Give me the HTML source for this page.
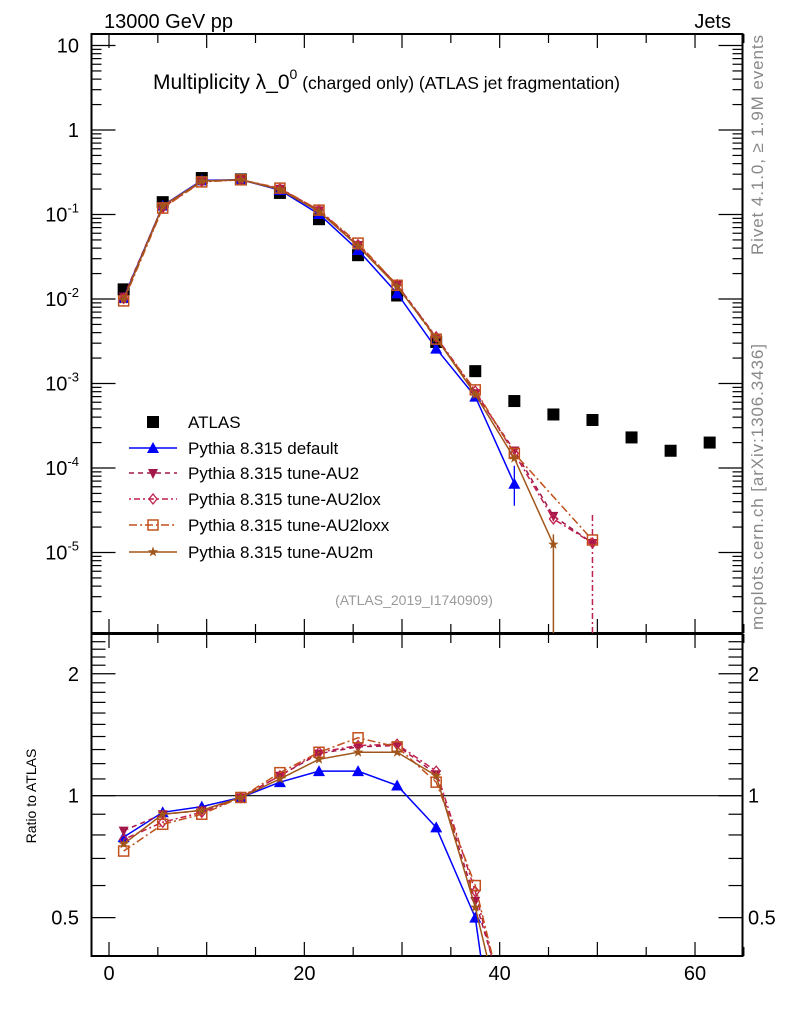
<!DOCTYPE html>
<html><head><meta charset="utf-8">
<style>
html,body{margin:0;background:#fff;overflow:hidden;width:786px;height:1024px;}
svg{display:block;font-family:"Liberation Sans",sans-serif;}
</style></head>
<body>
<svg id="c" width="786" height="1024" viewBox="0 0 786 1024" xmlns="http://www.w3.org/2000/svg">
<rect width="786" height="1024" fill="#fff"/>
<text x="104" y="28" font-size="20">13000 GeV pp</text>
<text x="731" y="28" font-size="20" text-anchor="end">Jets</text>
<text x="153" y="89" font-size="21">Multiplicity λ_0<tspan dy="-10" font-size="14">0</tspan><tspan dy="10" font-size="17.5"> (charged only) (ATLAS jet fragmentation)</tspan></text>
<text transform="translate(763,255) rotate(-90)" font-size="17" fill="#888" textLength="220">Rivet 4.1.0, ≥ 1.9M events</text>
<text transform="translate(763,630) rotate(-90)" font-size="17" fill="#888" textLength="286">mcplots.cern.ch [arXiv:1306.3436]</text>
<text x="414" y="605" font-size="14" fill="#999" text-anchor="middle">(ATLAS_2019_I1740909)</text>
<text transform="translate(36,796) rotate(-90)" font-size="14" text-anchor="middle">Ratio to ATLAS</text>
<g id="plot"></g>
<g id="legend"></g>
</svg>
<script>
const xs = [1.5,5.5,9.5,13.5,17.5,21.5,25.5,29.5,33.5,37.5,41.5,45.5,49.5,53.5,57.5,61.5];
const atlas = [0.013,0.14,0.27,0.26,0.18,0.088,0.033,0.011,0.0031,0.0014,0.00062,0.00043,0.00037,0.00023,0.00016,0.0002];
const rDefault = [0.79,0.91,0.94,0.99,1.08,1.15,1.15,1.06,0.835,0.50,0.105];
const rAU2 = [0.82,0.90,0.92,0.99,1.12,1.27,1.32,1.33,1.13,0.55,0.26,0.063,0.035];
const rAU2lox = [0.78,0.86,0.91,0.99,1.12,1.28,1.33,1.34,1.15,0.58,0.24,0.058,0.035];
const rAU2loxx = [0.73,0.85,0.90,0.99,1.14,1.28,1.39,1.32,1.08,0.60,0.24,null,0.038];
const rAU2m = [0.76,0.90,0.92,0.99,1.10,1.23,1.28,1.28,1.12,0.53,0.21,0.029];
const xTicks = [0,20,40,60];
const mainTicks = [1,0,-1,-2,-3,-4,-5];
const ratioTicks = [2,1,0.5];

const NS="http://www.w3.org/2000/svg";
const L=91.5,R=742.5,MT=34,MB=633,RT=634,RB=956;
const X=v=>109+v*9.767;
const Y=v=>130-Math.log10(v)*84.5;
const YR=v=>795.7-Math.log10(v)*405;
const plot=document.getElementById('plot');
function el(tag,attrs,parent){const e=document.createElementNS(NS,tag);for(const k in attrs)e.setAttribute(k,attrs[k]);(parent||plot).appendChild(e);return e;}

let f1=el('rect',{x:L,y:MT,width:R-L,height:MB-MT,fill:'none',stroke:'#000','stroke-width':2});


let f2=el('rect',{x:L,y:RT,width:R-L,height:RB-RT,fill:'none',stroke:'#000','stroke-width':2});



for(let v=0;v<=65;v+=5){
  const len=v%10===0?14:9;
  for(const [t,b] of [[MT,MB],[RT,RB]]){
    el('line',{x1:X(v),x2:X(v),y1:b,y2:b-len,stroke:'#000','stroke-width':1.2});
    el('line',{x1:X(v),x2:X(v),y1:t,y2:t+len,stroke:'#000','stroke-width':1.2});
  }
}
xTicks.forEach(v=>{const t=el('text',{x:X(v),y:980,'font-size':20,'text-anchor':'middle'});t.textContent=v;

});

for(let d=-6;d<=1;d++){for(let m=1;m<10;m++){const v=m*Math.pow(10,d);const y=Y(v);if(y<MT||y>MB)continue;const len=m===1?24:10;
el('line',{x1:L,x2:L+len,y1:y,y2:y,stroke:'#000','stroke-width':1.2});
el('line',{x1:R,x2:R-len,y1:y,y2:y,stroke:'#000','stroke-width':1.2});}}
mainTicks.forEach(d=>{const y=Y(Math.pow(10,d));const t=el('text',{x:79,y:y+7,'font-size':20,'text-anchor':'end'});
if(d===1)t.textContent='10';else if(d===0)t.textContent='1';else{t.textContent='10';const s=el('tspan',{dy:-9,'font-size':13},t);s.textContent=String(d);}

});

const rminor=[0.4,0.5,0.6,0.7,0.8,0.9,1,1.1,1.2,1.3,1.4,1.5,1.6,1.7,1.8,1.9,2,2.1,2.2,2.3,2.4];
rminor.forEach(v=>{const y=YR(v);if(y<RT||y>RB)return;const len=(v===0.5||v===1||v===2)?24:14;
el('line',{x1:L,x2:L+len,y1:y,y2:y,stroke:'#000','stroke-width':1.2});
el('line',{x1:R,x2:R-len,y1:y,y2:y,stroke:'#000','stroke-width':1.2});});
ratioTicks.forEach(v=>{const y=YR(v)+7;
const t=el('text',{x:79,y:y,'font-size':20,'text-anchor':'end'});t.textContent=v;


const t2=el('text',{x:748,y:y,'font-size':20});t2.textContent=v;

});
el('line',{x1:L,x2:R,y1:YR(1),y2:YR(1),stroke:'#000','stroke-width':1.2});

const defs=el('defs',{});
const c1=el('clipPath',{id:'cm'},defs);el('rect',{x:L,y:MT,width:R-L,height:MB-MT},c1);
const c2=el('clipPath',{id:'cr'},defs);el('rect',{x:L,y:RT,width:R-L,height:RB-RT},c2);

function marker(g,type,x,y,col){
  const s=5;
  if(type==='sq')el('rect',{x:x-6,y:y-6,width:12,height:12,fill:'#000'},g);
  else if(type==='tri')el('polygon',{points:`${x},${y-6} ${x-6},${y+5} ${x+6},${y+5}`,fill:col},g);
  else if(type==='itri')el('polygon',{points:`${x},${y+6} ${x-5},${y-4} ${x+5},${y-4}`,fill:col},g);
  else if(type==='dia')el('polygon',{points:`${x},${y-s} ${x+4},${y} ${x},${y+s} ${x-4},${y}`,fill:'none',stroke:col,'stroke-width':1.3},g);
  else if(type==='osq')el('rect',{x:x-5,y:y-5,width:10,height:10,fill:'none',stroke:col,'stroke-width':1.5},g);
  else if(type==='star'){let p=[];for(let i=0;i<10;i++){const r=i%2?2.2:5.5,a=-Math.PI/2+i*Math.PI/5;p.push((x+r*Math.cos(a)).toFixed(1)+','+(y+r*Math.sin(a)).toFixed(1));}el('polygon',{points:p.join(' '),fill:col},g);}
}

const ga=el('g',{'clip-path':'url(#cm)'});


atlas.forEach((v,i)=>marker(ga,'sq',X(xs[i]),Y(v)));

const series=[
 {name:'default',r:rDefault,col:'#0000ff',m:'tri',dash:''},
 {name:'au2',r:rAU2,col:'#a3164a',m:'itri',dash:'5,4'},
 {name:'au2lox',r:rAU2lox,col:'#c0204c',m:'dia',dash:'2,3,6,3'},
 {name:'au2loxx',r:rAU2loxx,col:'#c2501c',m:'osq',dash:'8,3,2,3'},
 {name:'au2m',r:rAU2m,col:'#a0561a',m:'star',dash:''}
];
series.forEach(s=>{
  const g=el('g',{'clip-path':'url(#cm)'});
  
  
  const pts=[],rp=[];
  s.r.forEach((r,i)=>{if(r==null)return;pts.push([X(xs[i]),Y(r*atlas[i])]);rp.push([X(xs[i]),YR(r)]);});
  el('polyline',{points:pts.map(p=>p.join(',')).join(' '),fill:'none',stroke:s.col,'stroke-width':1.5,'stroke-dasharray':s.dash},g);
  pts.forEach(p=>marker(g,s.m,p[0],p[1],s.col));
  const g2=el('g',{'clip-path':'url(#cr)'});
  
  
  el('polyline',{points:rp.map(p=>p.join(',')).join(' '),fill:'none',stroke:s.col,'stroke-width':1.5,'stroke-dasharray':s.dash},g2);
  rp.forEach(p=>marker(g2,s.m,p[0],p[1],s.col));
});
el('line',{x1:X(41.5),x2:X(41.5),y1:Y(rDefault[10]*atlas[10])-18,y2:Y(rDefault[10]*atlas[10])+22,stroke:'#0000ff','stroke-width':1.3});
el('line',{x1:X(45.5),x2:X(45.5),y1:Y(rAU2m[11]*atlas[11])-10,y2:MB,stroke:'#a0561a','stroke-width':1.5});
el('line',{x1:X(49.5),x2:X(49.5),y1:Y(rAU2loxx[12]*atlas[12])-25,y2:MB,stroke:'#c0204c','stroke-width':1.5,'stroke-dasharray':'6,3,2,3'});

const lg=document.getElementById('legend');
const labels=['ATLAS','Pythia 8.315 default','Pythia 8.315 tune-AU2','Pythia 8.315 tune-AU2lox','Pythia 8.315 tune-AU2loxx','Pythia 8.315 tune-AU2m'];
const ly=[422,448,473,499,525,552];
labels.forEach((lab,i)=>{
  const g=el('g',{},lg);
  
  
  if(i===0)marker(g,'sq',153,ly[i]);
  else{const s=series[i-1];el('line',{x1:129,x2:177,y1:ly[i],y2:ly[i],stroke:s.col,'stroke-width':1.5,'stroke-dasharray':s.dash},g);marker(g,s.m,153,ly[i],s.col);}
  const t=el('text',{x:188,y:ly[i]+6,'font-size':17},g);t.textContent=lab;
});
</script>
</body></html>
